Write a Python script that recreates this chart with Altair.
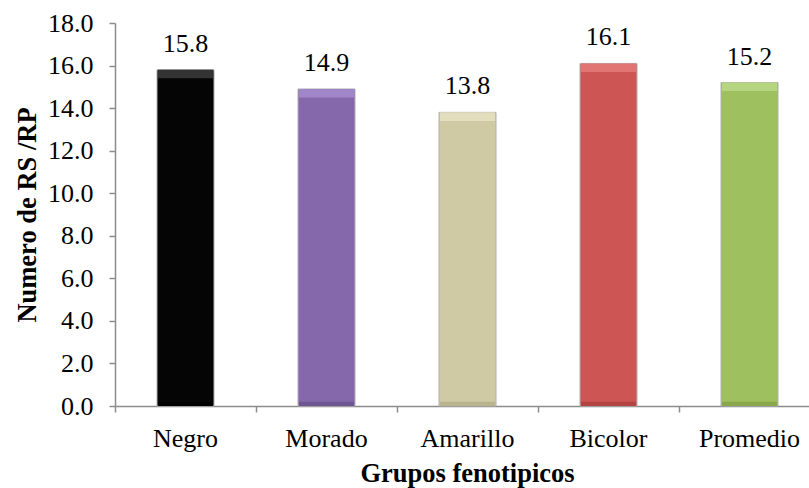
import altair as alt
import pandas as pd

# Phenotypic groups and their mean RS/RP count
grupos = ["Negro", "Morado", "Amarillo", "Bicolor", "Promedio"]
valores = [15.8, 14.9, 13.8, 16.1, 15.2]
colores = ["#050505", "#8468AB", "#CFCAA4", "#CD5654", "#9FC05E"]
brillos = ["#333333", "#A086C8", "#E2DEBD", "#E07573", "#B5D581"]
sombras = ["#000000", "#6F5592", "#B9B48E", "#B34442", "#88A84A"]

df = pd.DataFrame({"grupo": grupos, "valor": valores, "color": colores,
                   "brillo": brillos, "sombra": sombras})
df["label"] = df["valor"].map(lambda v: f"{v:.1f}")
df["tope"] = df["valor"] - 0.4
df["base"] = 0.0
df["pie"] = 0.2

FONT = "'Liberation Serif', 'Times New Roman', Times, serif"

x = alt.X(
    "grupo:N",
    sort=grupos,
    scale=alt.Scale(range=[0, 705], paddingInner=0, paddingOuter=0),
    axis=alt.Axis(
        title="Grupos fenotipicos",
        labelAngle=0,
        bandPosition=0,
        tickSize=6,
        labelPadding=13,
        titlePadding=9,
        titleX=352,
    ),
)
y = alt.Y(
    "valor:Q",
    scale=alt.Scale(domain=[0, 18], nice=False),
    axis=alt.Axis(
        title="Numero de RS /RP",
        values=[0, 2, 4, 6, 8, 10, 12, 14, 16, 18],
        format=".1f",
        tickSize=6,
        labelPadding=16,
        titlePadding=6,
        grid=False,
    ),
)

bars = alt.Chart(df).mark_bar(
    width=57, stroke="#B0B0B0", strokeWidth=1
).encode(x=x, y=y, color=alt.Color("color:N", scale=None))

highlight = alt.Chart(df).mark_bar(width=55).encode(
    x=x, y="tope:Q", y2="valor:Q", color=alt.Color("brillo:N", scale=None)
)

footer = alt.Chart(df).mark_bar(width=55).encode(
    x=x, y="base:Q", y2="pie:Q", color=alt.Color("sombra:N", scale=None)
)

labels = alt.Chart(df).mark_text(
    dy=-18, baseline="alphabetic", font=FONT, fontSize=26, color="black"
).encode(x=alt.X("grupo:N", sort=grupos), y="valor:Q", text="label:N")

chart = (
    alt.layer(bars, highlight, footer, labels)
    .properties(
        width=694,
        height=383,
        autosize=alt.AutoSizeParams(type="none"),
        padding={"left": 115, "top": 23, "right": 0, "bottom": 82},
        background="white",
    )
    .configure_view(stroke=None)
    .configure_axis(
        labelFont=FONT,
        labelFontSize=26,
        labelColor="black",
        titleFont=FONT,
        titleFontSize=26.5,
        titleFontWeight="bold",
        titleColor="black",
        domainColor="#8C8C8C",
        domainWidth=1.5,
        tickColor="#8C8C8C",
        tickWidth=1.5,
    )
)

chart.save("out.html", embed_options={"renderer": "svg", "actions": False})
